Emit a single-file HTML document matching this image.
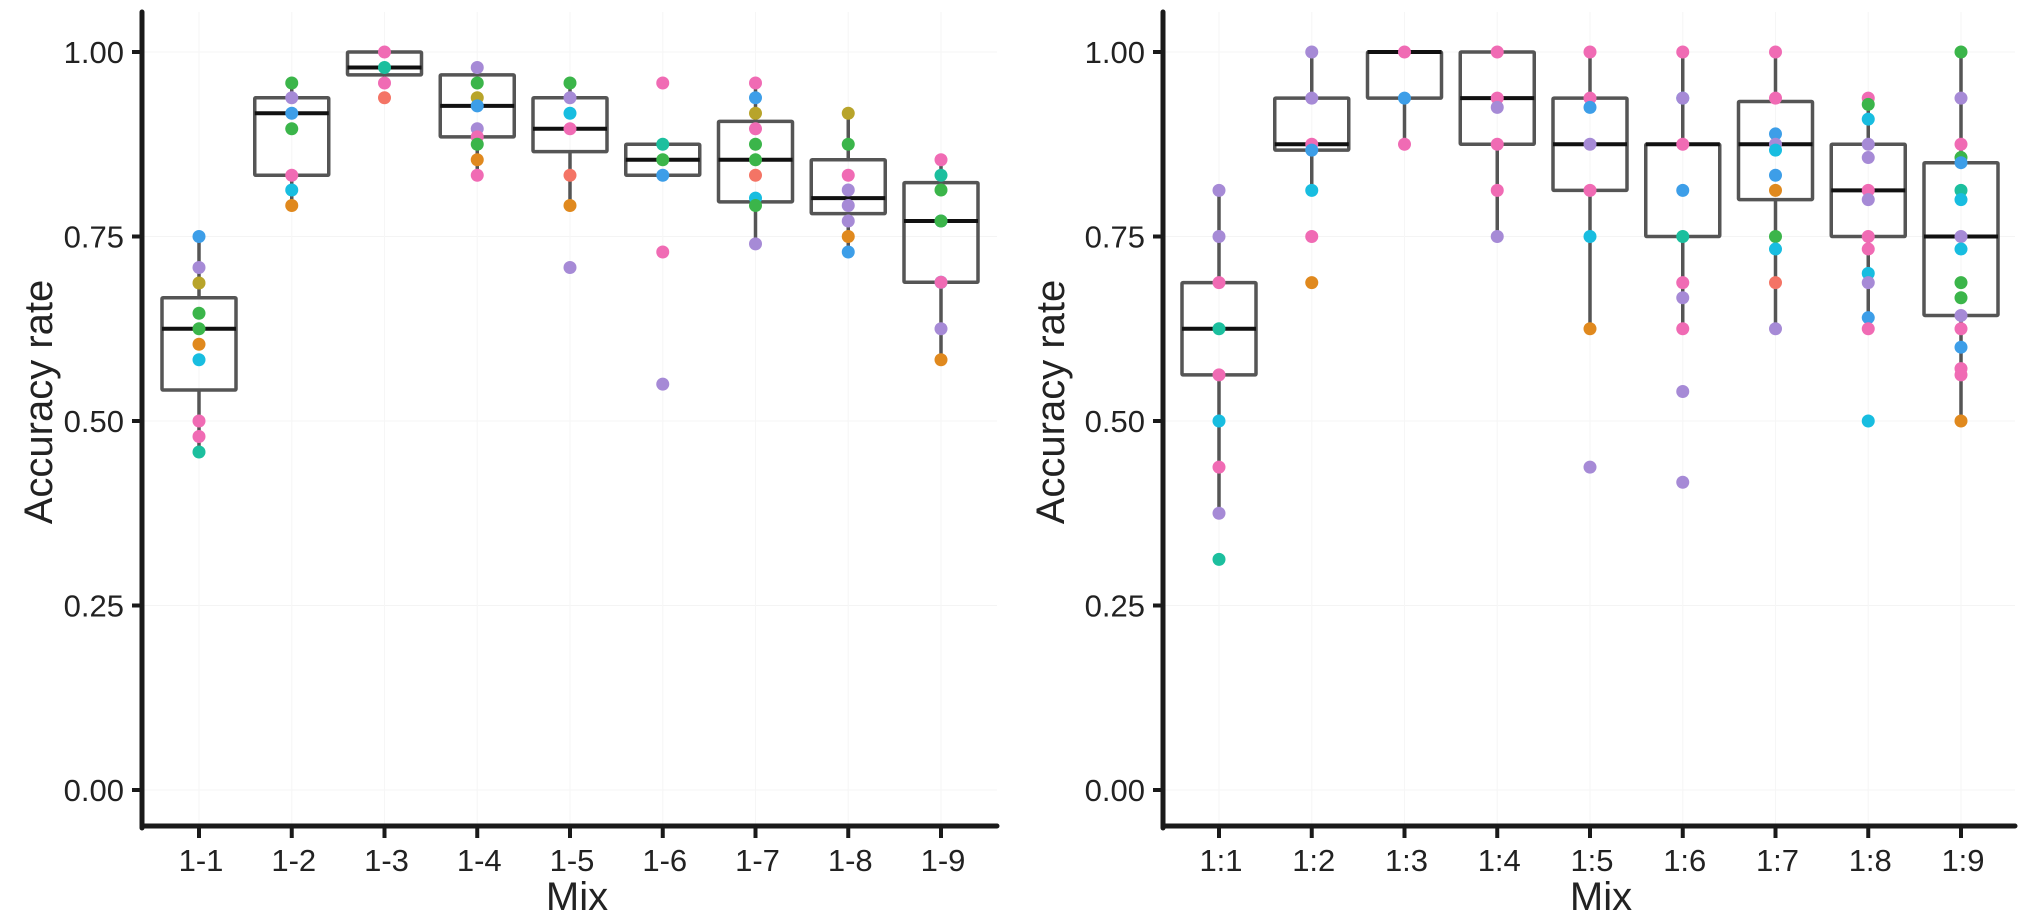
<!DOCTYPE html>
<html><head><meta charset="utf-8"><style>
html,body{margin:0;padding:0;background:#fff;}
svg{display:block;font-family:"Liberation Sans",Arial,sans-serif;}
</style></head><body>
<svg id="chart" width="2031" height="924" viewBox="0 0 2031 924"></svg>
<script>
const leftCats=["1-1","1-2","1-3","1-4","1-5","1-6","1-7","1-8","1-9"];
const rightCats=["1:1","1:2","1:3","1:4","1:5","1:6","1:7","1:8","1:9"];
const yTicks=[0,0.25,0.5,0.75,1];
const yTickLabels=["0.00","0.25","0.50","0.75","1.00"];
// [lowWhisker, q1, median, q3, highWhisker]
const leftBoxes=[[0.458,0.542,0.625,0.667,0.75],[0.792,0.833,0.917,0.938,0.958],[0.958,0.969,0.979,1.0,1.0],[0.833,0.885,0.927,0.969,0.979],[0.792,0.865,0.896,0.938,0.958],[0.833,0.833,0.854,0.875,0.875],[0.74,0.797,0.854,0.906,0.958],[0.729,0.781,0.802,0.854,0.917],[0.583,0.688,0.771,0.823,0.854]];
const rightBoxes=[[0.375,0.5625,0.625,0.6875,0.8125],[0.8125,0.867,0.875,0.9375,1.0],[0.875,0.9375,1.0,1.0,1.0],[0.75,0.875,0.9375,1.0,1.0],[0.625,0.8125,0.875,0.9375,1.0],[0.625,0.75,0.875,0.875,1.0],[0.625,0.8,0.875,0.933,1.0],[0.625,0.75,0.8125,0.875,0.9375],[0.5,0.643,0.75,0.85,1.0]];
const leftPointVals=[[0.75,0.708,0.687,0.646,0.625,0.604,0.583,0.5,0.479,0.458],[0.958,0.938,0.917,0.896,0.833,0.813,0.792],[1.0,0.979,0.958,0.938],[0.979,0.958,0.938,0.927,0.896,0.885,0.875,0.854,0.833],[0.958,0.938,0.917,0.896,0.833,0.792,0.708],[0.958,0.875,0.854,0.833,0.729,0.55],[0.958,0.938,0.917,0.896,0.875,0.854,0.833,0.802,0.792,0.74],[0.917,0.875,0.833,0.813,0.792,0.771,0.75,0.729],[0.854,0.833,0.813,0.771,0.771,0.688,0.688,0.625,0.583]];
const leftPointCols=[["b","p","o","g","g","or","c","pk","pk","t"],["g","p","b","g","pk","c","or"],["pk","t","pk","r"],["p","g","o","b","p","pk","g","or","pk"],["g","p","c","pk","r","or","p"],["pk","t","g","b","pk","p"],["pk","b","o","pk","g","g","r","c","g","p"],["o","g","pk","p","p","p","or","b"],["pk","t","g","b","g","c","pk","p","or"]];
const rightPointVals=[[0.8125,0.75,0.6875,0.625,0.5625,0.5,0.4375,0.375,0.3125],[1.0,0.9375,0.875,0.867,0.8125,0.75,0.6875],[1.0,0.9375,0.875],[1.0,0.9375,0.925,0.875,0.8125,0.75],[1.0,0.9375,0.925,0.875,0.8125,0.75,0.625,0.4375],[1.0,0.9375,0.9375,0.875,0.8125,0.75,0.6875,0.667,0.625,0.54,0.417],[1.0,0.9375,0.889,0.875,0.867,0.833,0.8125,0.75,0.733,0.6875,0.625],[0.9375,0.929,0.909,0.875,0.857,0.8125,0.8,0.75,0.733,0.7,0.6875,0.64,0.625,0.5],[1.0,0.9375,0.875,0.857,0.85,0.8125,0.8,0.75,0.733,0.6875,0.667,0.643,0.625,0.6,0.571,0.5625,0.5]];
const rightPointCols=[["p","p","pk","t","pk","c","pk","p","t"],["p","p","pk","b","c","pk","or"],["pk","b","pk"],["pk","pk","p","pk","pk","p"],["pk","pk","b","p","pk","c","or","p"],["pk","b","p","pk","b","t","pk","p","pk","p","p"],["pk","pk","b","p","c","b","or","g","c","r","p"],["pk","g","c","p","p","pk","p","pk","pk","c","p","b","pk","c"],["g","p","pk","g","b","t","c","p","c","g","g","p","pk","b","pk","pk","or"]];
const COLORS={b:"#3d9ee8",p:"#a68ad6",o:"#b8a42a",g:"#3bb54a",or:"#e0891e",c:"#18bde0",pk:"#f06bb4",t:"#1cbf9e",r:"#f47465"};
const NS="http://www.w3.org/2000/svg";
const svg=document.getElementById("chart");
function mk(tag,attrs,parent){const e=document.createElementNS(NS,tag);for(const k in attrs)e.setAttribute(k,attrs[k]);(parent||svg).appendChild(e);return e;}
const Y0=790,Y1=52;
function yScale(v){return Y0+(Y1-Y0)*v;}
function drawPanel(p){
  const g=mk("g",{});
  
  
  const xScale=i=>p.x0+i*p.step;
  yTicks.forEach(v=>{const l=mk("line",{x1:p.ax,x2:p.axEnd,y1:yScale(v),y2:yScale(v),stroke:"#f4f4f4","stroke-width":1},g);
    
    });
  p.cats.forEach((c,i)=>{const l=mk("line",{x1:xScale(i),x2:xScale(i),y1:12,y2:826,stroke:"#f6f6f6","stroke-width":1},g);
    
    });
  p.boxes.forEach((b,i)=>{
    const cx=xScale(i),hw=37;
    const bg=mk("g",{},g);
    
    
    mk("line",{x1:cx,x2:cx,y1:yScale(b[0]),y2:yScale(b[1]),stroke:"#555","stroke-width":3.5},bg);
    mk("line",{x1:cx,x2:cx,y1:yScale(b[3]),y2:yScale(b[4]),stroke:"#555","stroke-width":3.5},bg);
    mk("rect",{x:cx-hw,y:yScale(b[3]),width:hw*2,height:Math.max(1,yScale(b[1])-yScale(b[3])),fill:"none",stroke:"#555","stroke-width":3.5,rx:1},bg);
    mk("line",{x1:cx-hw,x2:cx+hw,y1:yScale(b[2]),y2:yScale(b[2]),stroke:"#111","stroke-width":4},bg);
  });
  p.vals.forEach((arr,i)=>{arr.forEach((v,j)=>{
    const c=mk("circle",{cx:xScale(i),cy:yScale(v),r:6.5,fill:COLORS[p.cols[i][j]]},g);
    
    
  });});
  const ya=mk("line",{x1:p.ax,x2:p.ax,y1:12,y2:828,stroke:"#1a1a1a","stroke-width":5,"stroke-linecap":"round"},g);
  
  
  const xa=mk("line",{x1:p.ax,x2:p.axEnd,y1:826,y2:826,stroke:"#1a1a1a","stroke-width":5,"stroke-linecap":"round"},g);
  
  
  yTicks.forEach((v,k)=>{
    mk("line",{x1:p.ax-10,x2:p.ax,y1:yScale(v),y2:yScale(v),stroke:"#1a1a1a","stroke-width":4},g);
    const t=mk("text",{x:p.ax-18,y:yScale(v)+11,"text-anchor":"end","font-size":31,fill:"#222"},g);
    t.textContent=yTickLabels[k];
    
    
  });
  p.cats.forEach((c,i)=>{
    mk("line",{x1:xScale(i),x2:xScale(i),y1:826,y2:838,stroke:"#1a1a1a","stroke-width":4},g);
    const t=mk("text",{x:xScale(i)+2,y:871,"text-anchor":"middle","font-size":31,fill:"#222"},g);
    t.textContent=c;
    
    
  });
  const xt=mk("text",{x:p.mixX,y:910,"text-anchor":"middle","font-size":40,fill:"#222"},g);
  xt.textContent="Mix";
  
  
  const yt=mk("text",{x:0,y:0,"text-anchor":"middle","font-size":40,fill:"#222",transform:`translate(${p.titleX},402) rotate(-90)`},g);
  yt.textContent="Accuracy rate";
  
  
}
drawPanel({name:"left-panel",cats:leftCats,boxes:leftBoxes,vals:leftPointVals,cols:leftPointCols,ax:142,axEnd:997,x0:199,step:92.75,mixX:577,titleX:52});
drawPanel({name:"right-panel",cats:rightCats,boxes:rightBoxes,vals:rightPointVals,cols:rightPointCols,ax:1163,axEnd:2015,x0:1219,step:92.75,mixX:1601,titleX:1064});
</script>
</body></html>
